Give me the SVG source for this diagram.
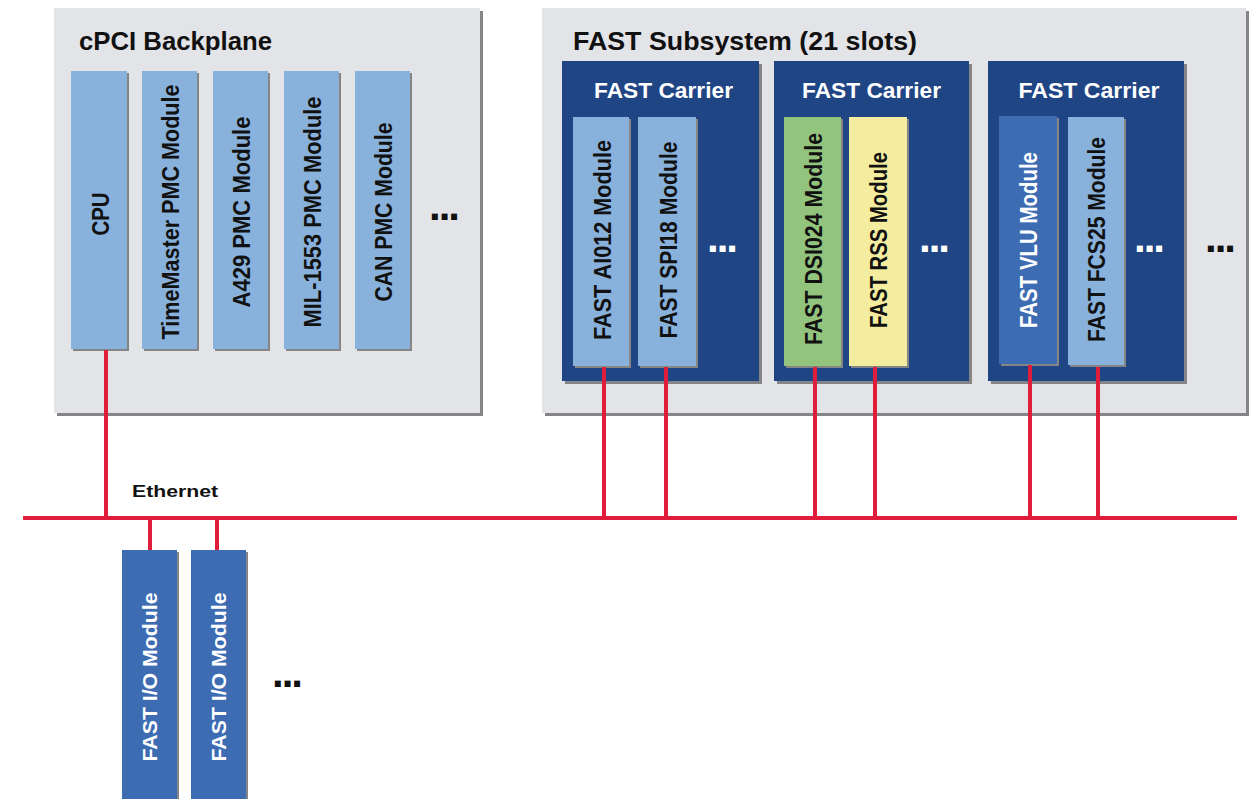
<svg xmlns="http://www.w3.org/2000/svg" width="1252" height="799" viewBox="0 0 1252 799">
<style>
.bg{fill:#e3e4e8}
.sh{fill:#858585}
.car{fill:#1f4584}
.lm{fill:#88b1dc}
.dm{fill:#3d6cb3}
.gm{fill:#93c47e}
.ym{fill:#f4ed9f}
.t{font-family:"Liberation Sans",Arial,sans-serif;font-weight:bold}
.title{font-size:25px;fill:#111}
.ct{font-size:22px;fill:#fff;text-anchor:middle}
.mt{font-size:23px;text-anchor:middle;fill:#111}
.mw{fill:#fff}
.dots{font-size:42px;letter-spacing:-2px}
.net{stroke:#e01e3c;stroke-width:4;fill:none}
</style>

<g id="cpci">
  <rect class="sh" x="57" y="11" width="426" height="405"/>
  <rect class="bg" x="54" y="8" width="426" height="405"/>
  <text class="t title" x="79" y="50" textLength="193" lengthAdjust="spacingAndGlyphs">cPCI Backplane</text>
</g>
<g id="cpu">
  <rect class="sh" x="73" y="73" width="56" height="278"/>
  <rect class="lm" x="71" y="71" width="56" height="278"/>
  <text class="t mt" transform="translate(100,214) rotate(-90)" y="8.5" textLength="43" lengthAdjust="spacingAndGlyphs">CPU</text>
</g>
<g id="timemaster">
  <rect class="sh" x="144" y="73" width="55" height="278"/>
  <rect class="lm" x="142" y="71" width="55" height="278"/>
  <text class="t mt" transform="translate(170,212) rotate(-90)" y="8.5" textLength="255" lengthAdjust="spacingAndGlyphs">TimeMaster PMC Module</text>
</g>
<g id="a429">
  <rect class="sh" x="215" y="73" width="55" height="278"/>
  <rect class="lm" x="213" y="71" width="55" height="278"/>
  <text class="t mt" transform="translate(241,212) rotate(-90)" y="8.5" textLength="191" lengthAdjust="spacingAndGlyphs">A429 PMC Module</text>
</g>
<g id="mil1553">
  <rect class="sh" x="286" y="73" width="55" height="278"/>
  <rect class="lm" x="284" y="71" width="55" height="278"/>
  <text class="t mt" transform="translate(312,212) rotate(-90)" y="8.5" textLength="231" lengthAdjust="spacingAndGlyphs">MIL-1553 PMC Module</text>
</g>
<g id="can">
  <rect class="sh" x="357" y="73" width="55" height="278"/>
  <rect class="lm" x="355" y="71" width="55" height="278"/>
  <text class="t mt" transform="translate(383,212) rotate(-90)" y="8.5" textLength="179" lengthAdjust="spacingAndGlyphs">CAN PMC Module</text>
</g>
<g id="cpci-more">
  <text class="t dots" x="429" y="220" fill="#111">...</text>
</g>

<g id="fast-subsystem">
  <rect class="sh" x="545" y="11" width="704" height="405"/>
  <rect class="bg" x="542" y="8" width="704" height="405"/>
  <text class="t title" x="573" y="50" textLength="344" lengthAdjust="spacingAndGlyphs">FAST Subsystem (21 slots)</text>
</g>

<g id="carrier1">
  <rect class="sh" x="565" y="64" width="197" height="320"/>
  <rect class="car" x="562" y="61" width="197" height="320"/>
  <text class="t ct" x="663.5" y="98" textLength="139" lengthAdjust="spacingAndGlyphs">FAST Carrier</text>
  <text class="t dots" x="707" y="252" fill="#fff">...</text>
</g>
<g id="ai012">
  <rect class="sh" x="575" y="119" width="56" height="249"/>
  <rect class="lm" x="573" y="117" width="56" height="249"/>
  <text class="t mt" transform="translate(602,240) rotate(-90)" y="8.5" textLength="200" lengthAdjust="spacingAndGlyphs">FAST AI012 Module</text>
</g>
<g id="spi18">
  <rect class="sh" x="640" y="119" width="58" height="249"/>
  <rect class="lm" x="638" y="117" width="58" height="249"/>
  <text class="t mt" transform="translate(668,240) rotate(-90)" y="8.5" textLength="197" lengthAdjust="spacingAndGlyphs">FAST SPI18 Module</text>
</g>

<g id="carrier2">
  <rect class="sh" x="777" y="64" width="195" height="320"/>
  <rect class="car" x="774" y="61" width="195" height="320"/>
  <text class="t ct" x="871.5" y="98" textLength="139" lengthAdjust="spacingAndGlyphs">FAST Carrier</text>
  <text class="t dots" x="919" y="252" fill="#fff">...</text>
</g>
<g id="dsi024">
  <rect class="sh" x="786" y="119" width="57" height="249"/>
  <rect class="gm" x="784" y="117" width="57" height="249"/>
  <text class="t mt" transform="translate(813,239) rotate(-90)" y="8.5" textLength="212" lengthAdjust="spacingAndGlyphs">FAST DSI024 Module</text>
</g>
<g id="rss">
  <rect class="sh" x="851" y="119" width="58" height="249"/>
  <rect class="ym" x="849" y="117" width="58" height="249"/>
  <text class="t mt" transform="translate(878.5,240) rotate(-90)" y="8.5" textLength="176" lengthAdjust="spacingAndGlyphs">FAST RSS Module</text>
</g>

<g id="carrier3">
  <rect class="sh" x="991" y="64" width="196" height="320"/>
  <rect class="car" x="988" y="61" width="196" height="320"/>
  <text class="t ct" x="1089" y="98" textLength="141" lengthAdjust="spacingAndGlyphs">FAST Carrier</text>
  <text class="t dots" x="1134" y="252" fill="#fff">...</text>
</g>
<g id="vlu">
  <rect class="sh" x="1001" y="118" width="58" height="248"/>
  <rect class="dm" x="999" y="116" width="58" height="248"/>
  <text class="t mt mw" transform="translate(1028.5,240) rotate(-90)" y="8.5" textLength="176" lengthAdjust="spacingAndGlyphs">FAST VLU Module</text>
</g>
<g id="fcs25">
  <rect class="sh" x="1070" y="119" width="56" height="248"/>
  <rect class="lm" x="1068" y="117" width="56" height="248"/>
  <text class="t mt" transform="translate(1096.5,239.5) rotate(-90)" y="8.5" textLength="205" lengthAdjust="spacingAndGlyphs">FAST FCS25 Module</text>
</g>
<g id="fast-more">
  <text class="t dots" x="1205" y="252" fill="#111">...</text>
</g>

<g id="io1">
  <rect class="sh" x="124" y="552" width="55" height="260"/>
  <rect class="dm" x="122" y="550" width="55" height="260"/>
  <text class="t mt mw" style="font-size:21px" transform="translate(149,677) rotate(-90)" y="7.5" textLength="169" lengthAdjust="spacingAndGlyphs">FAST I/O Module</text>
</g>
<g id="io2">
  <rect class="sh" x="193" y="552" width="55" height="260"/>
  <rect class="dm" x="191" y="550" width="55" height="260"/>
  <text class="t mt mw" style="font-size:21px" transform="translate(218,677) rotate(-90)" y="7.5" textLength="169" lengthAdjust="spacingAndGlyphs">FAST I/O Module</text>
</g>
<g id="io-more">
  <text class="t dots" x="272" y="687" fill="#111">...</text>
</g>

<g id="connectors">
  <line class="net" x1="23" y1="518" x2="1237" y2="518"/>
  <line class="net" x1="106" y1="350" x2="106" y2="518"/>
  <line class="net" x1="604" y1="367" x2="604" y2="518"/>
  <line class="net" x1="666" y1="367" x2="666" y2="518"/>
  <line class="net" x1="815" y1="367" x2="815" y2="518"/>
  <line class="net" x1="875" y1="367" x2="875" y2="518"/>
  <line class="net" x1="1030" y1="365" x2="1030" y2="518"/>
  <line class="net" x1="1098" y1="367" x2="1098" y2="518"/>
  <line class="net" x1="150" y1="518" x2="150" y2="550"/>
  <line class="net" x1="217" y1="518" x2="217" y2="550"/>
  <text class="t" x="132" y="497" style="font-size:16px;fill:#111" textLength="86" lengthAdjust="spacingAndGlyphs">Ethernet</text>
</g>
</svg>
